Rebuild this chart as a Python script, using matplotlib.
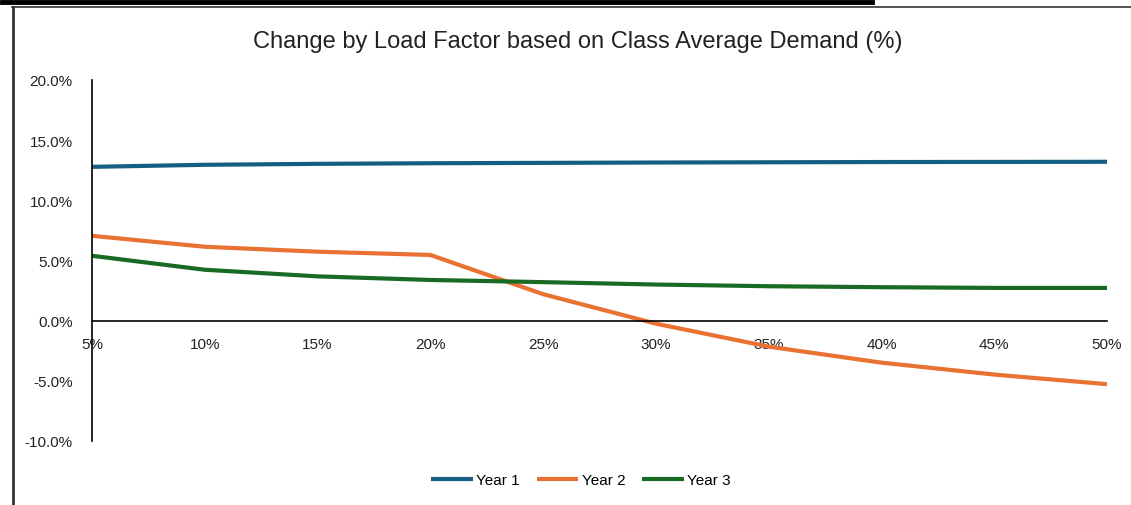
import matplotlib.pyplot as plt
from matplotlib.lines import Line2D
from matplotlib.ticker import FuncFormatter

load_factor = [5, 10, 15, 20, 25, 30, 35, 40, 45, 50]
year1 = [12.78, 12.95, 13.03, 13.08, 13.11, 13.14, 13.16, 13.18, 13.19, 13.2]
year2 = [7.05, 6.14, 5.73, 5.46, 2.2, -0.25, -2.16, -3.49, -4.48, -5.28]
year3 = [5.39, 4.23, 3.68, 3.38, 3.2, 3.0, 2.86, 2.78, 2.72, 2.72]
series_names = ['Year 1', 'Year 2', 'Year 3']
colors = ['#156082', '#E97132', '#196B24']

plt.rcParams['font.family'] = ['Liberation Sans', 'DejaVu Sans']

fig = plt.figure(figsize=(11.31, 5.06), dpi=100)
ax = fig.add_axes([0.0813, 0.1265, 0.8975, 0.7135])

for vals, name, c in zip([year1, year2, year3], series_names, colors):
    ax.plot(load_factor, vals, color=c, lw=3, label=name, solid_capstyle='butt')

ax.set_xlim(5, 50)
ax.set_ylim(-10, 20)
ax.set_xticks(load_factor)
ax.set_xticklabels([f'{v}%' for v in load_factor])
ax.set_yticks(range(-10, 21, 5))
ax.yaxis.set_major_formatter(FuncFormatter(lambda v, p: f'{v:.1f}%'))
ax.tick_params(axis='both', length=0, labelsize=11, colors='#222222')
ax.tick_params(axis='x', pad=12)
ax.tick_params(axis='y', pad=14)

for s in ['top', 'right']:
    ax.spines[s].set_visible(False)
ax.spines['bottom'].set_position(('data', 0))
ax.spines['left'].set_linewidth(1.2)
ax.spines['bottom'].set_linewidth(1.2)

fig.text(0.511, 0.917, 'Change by Load Factor based on Class Average Demand (%)',
         ha='center', va='center', fontsize=17, color='#222222')

ax.legend(loc='center', bbox_to_anchor=(0.482, -0.108), ncol=3, frameon=False,
          handlelength=2.7, handletextpad=0.25, columnspacing=1.1,
          prop={'size': 11})

# frame bits around the chart
fig.add_artist(Line2D([0.002, 0.771], [0.995, 0.995], color='black', lw=3.5))
fig.add_artist(Line2D([0.011, 1.0], [0.985, 0.985], color='#333333', lw=1.2))
fig.add_artist(Line2D([0.0115, 0.0115], [0.985, 0.0], color='#333333', lw=2))

plt.savefig('out.png', dpi=100)
